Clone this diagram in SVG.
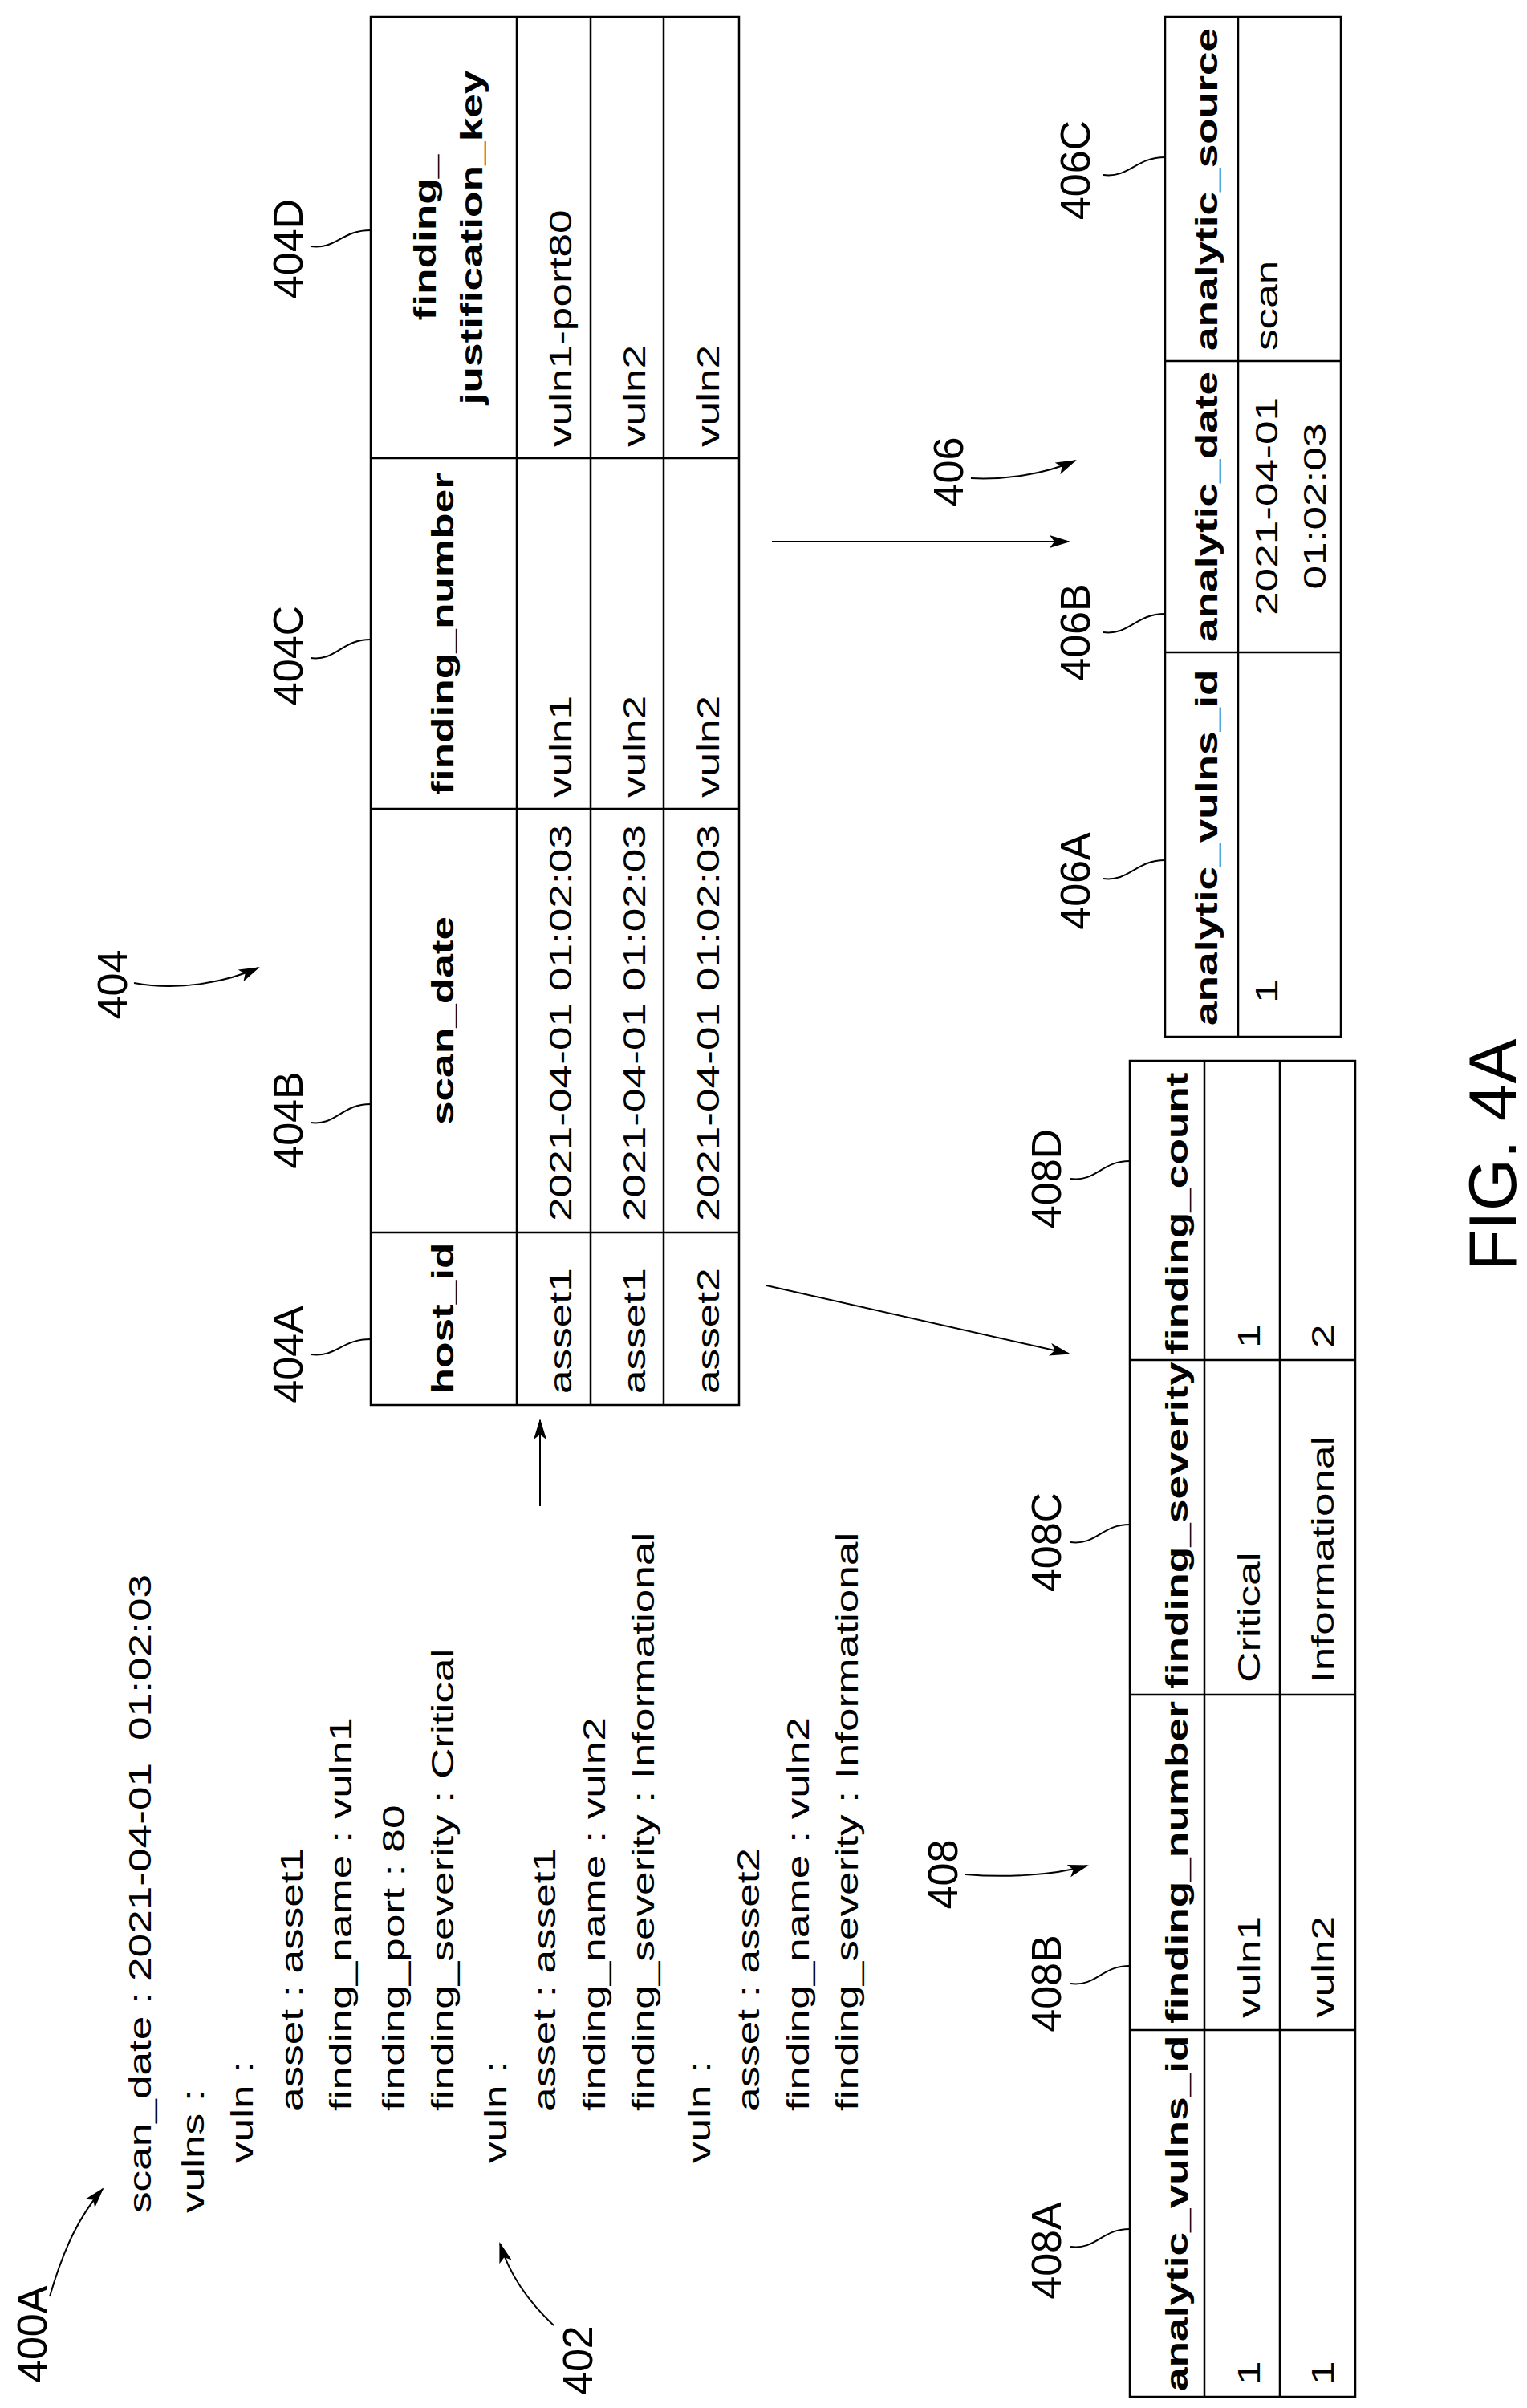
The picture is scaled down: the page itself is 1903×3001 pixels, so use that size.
<svg xmlns="http://www.w3.org/2000/svg" width="1903" height="3001" viewBox="0 0 1903 3001">
<style>
text{font-family:"Liberation Sans",Arial,sans-serif;fill:#000}
.b{font-size:38px}
.h{font-size:38px;font-weight:bold}
.l{font-size:52px}
.f{font-size:84px}
.m{text-anchor:middle}
.t{fill:none;stroke:#000;stroke-width:2.5}
.c{fill:none;stroke:#000;stroke-width:2}
.a{fill:none;stroke:#000;stroke-width:2;marker-end:url(#ah)}
</style>
<defs>
<marker id="ah" markerUnits="userSpaceOnUse" markerWidth="26" markerHeight="16" refX="24" refY="8" orient="auto">
<path d="M0,0 L26,8 L0,16 L6,8 z" fill="#000"/>
</marker>
</defs>
<rect width="1903" height="3001" fill="#fff"/>

<g id="source400A">
<text class="l" transform="translate(58,2970) rotate(-90)">400A</text>
<text class="b" transform="translate(188,2758) rotate(-90) scale(1.4,1)">scan_date :</text>
<text class="b" transform="translate(188,2469) rotate(-90) scale(1.4,1)">2021-04-01</text>
<text class="b" transform="translate(188,2169) rotate(-90) scale(1.4,1)">01:02:03</text>
<text class="b" transform="translate(254,2758) rotate(-90) scale(1.4,1)">vulns :</text>
<text class="b" transform="translate(315,2696) rotate(-90) scale(1.4,1)">vuln :</text>
<text class="b" transform="translate(377,2631) rotate(-90) scale(1.4,1)">asset : asset1</text>
<text class="b" transform="translate(438,2631) rotate(-90) scale(1.4,1)">finding_name : vuln1</text>
<text class="b" transform="translate(504,2631) rotate(-90) scale(1.4,1)">finding_port : 80</text>
<text class="b" transform="translate(565,2631) rotate(-90) scale(1.4,1)">finding_severity : Critical</text>
<text class="b" transform="translate(631,2696) rotate(-90) scale(1.4,1)">vuln :</text>
<text class="b" transform="translate(692,2631) rotate(-90) scale(1.4,1)">asset : asset1</text>
<text class="b" transform="translate(754,2631) rotate(-90) scale(1.4,1)">finding_name : vuln2</text>
<text class="b" transform="translate(815,2631) rotate(-90) scale(1.4,1)">finding_severity : Informational</text>
<text class="b" transform="translate(885,2696) rotate(-90) scale(1.4,1)">vuln :</text>
<text class="b" transform="translate(946,2631) rotate(-90) scale(1.4,1)">asset : asset2</text>
<text class="b" transform="translate(1008,2631) rotate(-90) scale(1.4,1)">finding_name : vuln2</text>
<text class="b" transform="translate(1069,2631) rotate(-90) scale(1.4,1)">finding_severity : Informational</text>
<text class="l" transform="translate(738,2985) rotate(-90)">402</text>
</g>

<g id="table404">
<rect class="t" x="462" y="21" width="459" height="1730"/>
<path class="t" d="M644,21V1751M736,21V1751M827,21V1751M462,1536H921M462,1008H921M462,571H921"/>
<text class="h m" transform="translate(565,1643) rotate(-90) scale(1.4,1)">host_id</text>
<text class="h m" transform="translate(565,1272) rotate(-90) scale(1.4,1)">scan_date</text>
<text class="h m" transform="translate(565,790) rotate(-90) scale(1.4,1)">finding_number</text>
<text class="h m" transform="translate(543,296) rotate(-90) scale(1.4,1)">finding_</text>
<text class="h m" transform="translate(601,296) rotate(-90) scale(1.4,1)">justification_key</text>
<text class="b" transform="translate(712,1737) rotate(-90) scale(1.4,1)">asset1</text>
<text class="b" transform="translate(712,1522) rotate(-90) scale(1.4,1)">2021-04-01 01:02:03</text>
<text class="b" transform="translate(712,994) rotate(-90) scale(1.4,1)">vuln1</text>
<text class="b" transform="translate(712,557) rotate(-90) scale(1.4,1)">vuln1-port80</text>
<text class="b" transform="translate(804,1737) rotate(-90) scale(1.4,1)">asset1</text>
<text class="b" transform="translate(804,1522) rotate(-90) scale(1.4,1)">2021-04-01 01:02:03</text>
<text class="b" transform="translate(804,994) rotate(-90) scale(1.4,1)">vuln2</text>
<text class="b" transform="translate(804,557) rotate(-90) scale(1.4,1)">vuln2</text>
<text class="b" transform="translate(896,1737) rotate(-90) scale(1.4,1)">asset2</text>
<text class="b" transform="translate(896,1522) rotate(-90) scale(1.4,1)">2021-04-01 01:02:03</text>
<text class="b" transform="translate(896,994) rotate(-90) scale(1.4,1)">vuln2</text>
<text class="b" transform="translate(896,557) rotate(-90) scale(1.4,1)">vuln2</text>
<text class="l m" transform="translate(158,1227) rotate(-90)">404</text>
<text class="l m" transform="translate(377,1688) rotate(-90)">404A</text>
<text class="l m" transform="translate(377,1396) rotate(-90)">404B</text>
<text class="l m" transform="translate(377,817) rotate(-90)">404C</text>
<text class="l m" transform="translate(377,310) rotate(-90)">404D</text>
</g>

<g id="table406">
<rect class="t" x="1452" y="21" width="219" height="1271"/>
<path class="t" d="M1543,21V1292M1452,813H1671M1452,450H1671"/>
<text class="h" transform="translate(1517,1278) rotate(-90) scale(1.4,1)">analytic_vulns_id</text>
<text class="h" transform="translate(1517,800) rotate(-90) scale(1.4,1)">analytic_date</text>
<text class="h" transform="translate(1517,437) rotate(-90) scale(1.4,1)">analytic_source</text>
<text class="b" transform="translate(1592,1250) rotate(-90) scale(1.4,1)">1</text>
<text class="b m" transform="translate(1592,631) rotate(-90) scale(1.4,1)">2021-04-01</text>
<text class="b m" transform="translate(1652,631) rotate(-90) scale(1.4,1)">01:02:03</text>
<text class="b" transform="translate(1592,437) rotate(-90) scale(1.4,1)">scan</text>
<text class="l m" transform="translate(1200,588) rotate(-90)">406</text>
<text class="l m" transform="translate(1358,1098) rotate(-90)">406A</text>
<text class="l m" transform="translate(1358,788) rotate(-90)">406B</text>
<text class="l m" transform="translate(1358,212) rotate(-90)">406C</text>
</g>

<g id="table408">
<rect class="t" x="1408" y="1322" width="281" height="1665"/>
<path class="t" d="M1501,1322V2987M1595,1322V2987M1408,2530H1689M1408,2112H1689M1408,1695H1689"/>
<text class="h" transform="translate(1480,2980) rotate(-90) scale(1.4,1)">analytic_vulns_id</text>
<text class="h" transform="translate(1480,2522) rotate(-90) scale(1.4,1)">finding_number</text>
<text class="h" transform="translate(1480,2105) rotate(-90) scale(1.4,1)">finding_severity</text>
<text class="h" transform="translate(1480,1688) rotate(-90) scale(1.4,1)">finding_count</text>
<text class="b" transform="translate(1570,2972) rotate(-90) scale(1.4,1)">1</text>
<text class="b" transform="translate(1570,2515) rotate(-90) scale(1.4,1)">vuln1</text>
<text class="b" transform="translate(1570,2097) rotate(-90) scale(1.4,1)">Critical</text>
<text class="b" transform="translate(1570,1680) rotate(-90) scale(1.4,1)">1</text>
<text class="b" transform="translate(1662,2972) rotate(-90) scale(1.4,1)">1</text>
<text class="b" transform="translate(1662,2515) rotate(-90) scale(1.4,1)">vuln2</text>
<text class="b" transform="translate(1662,2097) rotate(-90) scale(1.4,1)">Informational</text>
<text class="b" transform="translate(1662,1680) rotate(-90) scale(1.4,1)">2</text>
<text class="l m" transform="translate(1193,2336) rotate(-90)">408</text>
<text class="l m" transform="translate(1322,2805) rotate(-90)">408A</text>
<text class="l m" transform="translate(1322,2472) rotate(-90)">408B</text>
<text class="l m" transform="translate(1322,1922) rotate(-90)">408C</text>
<text class="l m" transform="translate(1322,1469) rotate(-90)">408D</text>
</g>

<g id="caption">
<text class="f" transform="translate(1889,1584) rotate(-90)">FIG. 4A</text>
</g>

<g id="connectors">
<path class="a" d="M673,1877V1770"/>
<path class="a" d="M955,1602L1332,1687"/>
<path class="a" d="M962,675H1332"/>
<path class="a" d="M62,2862C80,2800 100,2760 128,2728"/>
<path class="a" d="M690,2898C660,2870 635,2835 623,2796"/>
<path class="a" d="M167,1225C220,1235 280,1225 322,1206"/>
<path class="a" d="M1210,596C1250,598 1300,592 1340,574"/>
<path class="a" d="M1203,2336C1250,2340 1310,2338 1355,2325"/>
<path class="c" d="M387,1688C420,1692 425,1669 462,1669"/>
<path class="c" d="M387,1399C420,1403 425,1376 462,1376"/>
<path class="c" d="M387,820C420,824 425,797 462,797"/>
<path class="c" d="M387,307C420,311 425,287 462,287"/>
<path class="c" d="M1375,1095C1408,1099 1415,1072 1452,1072"/>
<path class="c" d="M1375,788C1408,792 1415,765 1452,765"/>
<path class="c" d="M1375,218C1408,222 1415,196 1452,196"/>
<path class="c" d="M1334,2800C1367,2804 1372,2778 1408,2778"/>
<path class="c" d="M1334,2472C1367,2476 1372,2450 1408,2450"/>
<path class="c" d="M1334,1922C1367,1926 1372,1900 1408,1900"/>
<path class="c" d="M1334,1469C1367,1473 1372,1447 1408,1447"/>
</g>
</svg>
